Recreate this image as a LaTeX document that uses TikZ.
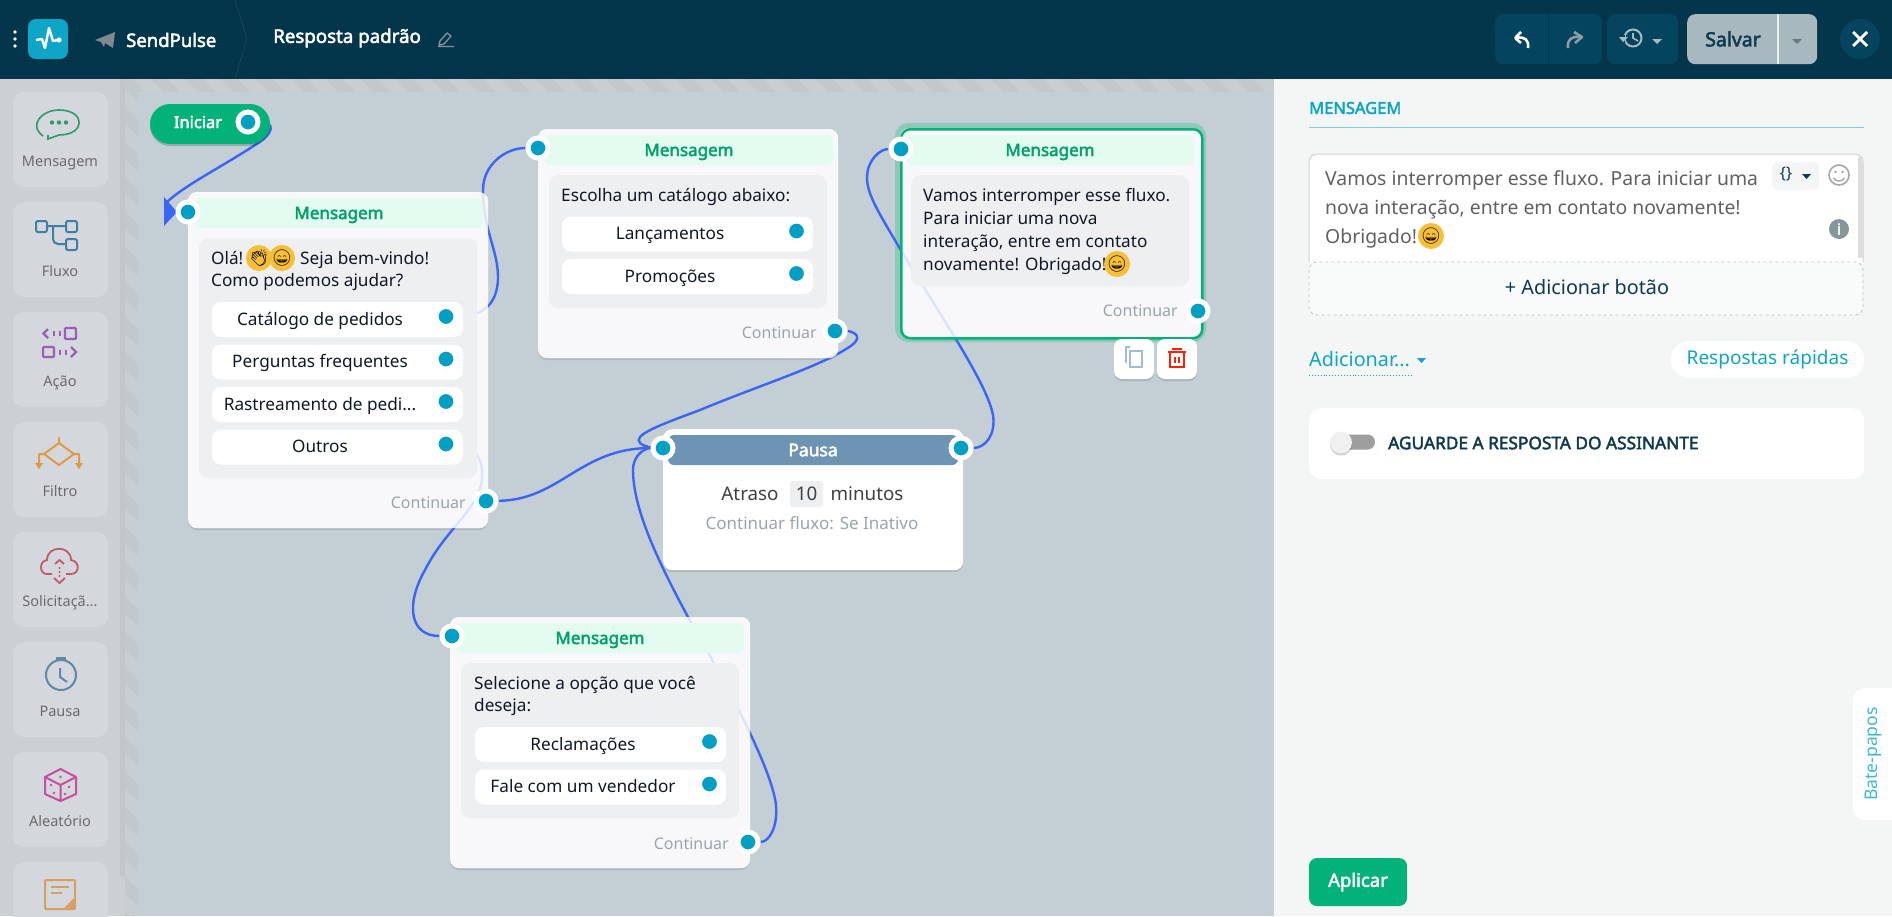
\documentclass[tikz,border=0pt]{standalone}
\usepackage{fontspec}
\setmainfont{Noto Sans}[BoldFont={Noto Sans},BoldFeatures={FakeBold=2.6}]
\newfontfamily\emojifont{Noto Emoji}
\usetikzlibrary{shadows,arrows.meta}
\pgfdeclarelayer{canvas}
\pgfdeclarelayer{wires}
\pgfsetlayers{canvas,wires,main}
\definecolor{topbar}{HTML}{03354B}
\definecolor{topbtn}{HTML}{05445E}
\definecolor{savebtn}{HTML}{A8B8BF}
\definecolor{sidebase}{HTML}{CBD0D4}
\definecolor{sideitem}{HTML}{D4D7DB}
\definecolor{board}{HTML}{C3CED5}
\definecolor{panel}{HTML}{F4F6F6}
\definecolor{cardbg}{HTML}{F7F8FB}
\definecolor{bandbg}{HTML}{E3FCEF}
\definecolor{innerbg}{HTML}{EEEFF1}
\definecolor{flowgreen}{HTML}{02B278}
\definecolor{halo}{HTML}{8FC8B5}
\definecolor{pauseband}{HTML}{6D94B2}
\definecolor{port}{HTML}{019FC4}
\definecolor{wire}{HTML}{3B65F5}
\definecolor{muted}{HTML}{9AA5AB}
\definecolor{inktext}{HTML}{101828}
\definecolor{teal}{HTML}{0EA5C6}
\definecolor{deep}{HTML}{103A50}
\definecolor{iconmsg}{HTML}{2E9B6A}
\definecolor{iconflow}{HTML}{3F7FA3}
\definecolor{iconact}{HTML}{9B5FB8}
\definecolor{iconfilter}{HTML}{E09A45}
\definecolor{iconreq}{HTML}{C25A6C}
\definecolor{iconpause}{HTML}{5C8AA8}
\definecolor{icondice}{HTML}{C84FA0}
\definecolor{iconnote}{HTML}{D8A060}
\definecolor{smileface}{HTML}{F7BE38}
\tikzset{
  cardbox/.style={fill=cardbg,fill opacity=.86,rounded corners=9pt,anchor=north west,inner sep=0pt},
  cardback/.style={fill=white,rounded corners=9pt,general shadow={fill=black,opacity=.1,shadow yshift=-2pt}},
  bandbox/.style={fill=bandbg,text=flowgreen!90!black,font=\fontsize{17}{20}\selectfont\bfseries,rounded corners=6pt,minimum height=30pt,inner sep=0pt,text height=14pt,text depth=2pt},
  innerbox/.style={fill=innerbg,rounded corners=9pt,anchor=north west,inner sep=0pt},
  optbox/.style={fill=white,rounded corners=9pt,minimum width=251pt,minimum height=35pt,inner sep=0pt},
  bodytext/.style={text=inktext,font=\fontsize{17.2}{20}\selectfont,inner sep=0pt,text height=14pt,text depth=3pt},
  linetext/.style={bodytext,anchor=west},
  moretext/.style={text=muted,font=\fontsize{16}{19}\selectfont,inner sep=0pt,anchor=east},
  portdot/.style={circle,fill=port,draw=white,line width=5pt,minimum size=20pt,inner sep=0pt,general shadow={fill=black,opacity=.18,shadow yshift=-1.5pt}},
  optdot/.style={circle,fill=port,draw=white,line width=4pt,minimum size=19pt,inner sep=0pt,general shadow={fill=black,opacity=.18,shadow yshift=-2pt}},
  flowline/.style={draw=wire,line width=2.4pt},
  sideslot/.style={fill=sideitem,rounded corners=11pt},
  sidelabel/.style={text=black!58,font=\fontsize{14.5}{18}\selectfont,inner sep=0pt,text height=12pt,text depth=3pt},
  smilebox/.style={circle,fill=smileface,inner sep=0pt,minimum size=19pt,font=\emojifont\fontsize{16}{16}\selectfont,text=black},
  topblock/.style={fill=topbtn,rounded corners=8pt,anchor=north west,inner sep=0pt},
  paneltext/.style={text=black!62,font=\fontsize{19.4}{24}\selectfont,inner sep=0pt,anchor=west,text height=16pt,text depth=3pt}
}
\begin{document}
\begin{tikzpicture}[x=1pt,y=-1pt]
\useasboundingbox (0,0) rectangle (1892,916);
% background
\begin{pgfonlayer}{canvas}
  \fill[board] (138,92) rectangle (1274,916);
  \fill[sidebase] (0,79) rectangle (120,916);
  \fill[black!5!sidebase] (120,79) rectangle (125,876);
  \fill[sidebase] (120,876) rectangle (125,916);
  \fill[black!1!sidebase] (125,79) rectangle (1274,92) (125,92) rectangle (138,916);
  \begin{scope}
    \clip (125,79) rectangle (1274,92) (125,92) rectangle (138,916);
    \foreach \c in {-900,-865,...,1300}
      \draw[black!4!sidebase,line width=12pt] (\c,0) -- ({\c+1000},1000);
  \end{scope}
  \fill[panel] (1274,79) rectangle (1892,916);
  \fill[topbar] (0,0) rectangle (1892,79);
  \foreach \top in {92,202,312,422,532,642,752,862}
    \fill[sideslot] (13,\top) rectangle (108,{\top+95});
  % shadows under the cards
  \foreach \xa/\ya/\xb/\yb in {188/192/488/528,538/129/838/358,450/617/750/868}
    \fill[cardback] (\xa,\ya) rectangle (\xb,\yb);
  \fill[cardback] (898,126) rectangle (1203,339);
  \draw[halo,line width=5pt,rounded corners=11pt] (897.5,125.5) rectangle (1203.5,339.5);
\end{pgfonlayer}
% top bar
\foreach \yy in {32,39,46}
  \fill[white] (15,\yy) circle (1.8);
\node[fill=teal,rounded corners=8pt,minimum size=40pt,inner sep=0pt] (logo) at (48,39) {};
\draw[white,line width=2.4pt,line join=round] (36,40) -- (42,39) -- (45,48) -- (49,28) -- (53,41) -- (58,40);
\fill[white] (59,40) circle (2.6);
\fill[black!25!savebtn] (95,40) -- (115,32) -- (113,48) -- (105,43) -- (104,47) -- (101,42) -- cycle;
\node[text=white,font=\fontsize{18.5}{20}\selectfont\bfseries,inner sep=0pt,anchor=west] (brand) at (126,40) {SendPulse};
\draw[black!10!topbar!85!white] (235,0) -- (247,39) -- (235,79);
\node[text=white,font=\fontsize{18.7}{20}\selectfont\bfseries,inner sep=0pt,anchor=west] (flowname) at (273,38) {Resposta padrão};
\draw[savebtn!80!black,line width=1.3pt,line join=round] (440,41) -- (447,33) -- (451,36) -- (444,44) -- (439,45) -- cycle (438,46.5) -- (454,46.5);
\node[topblock,minimum width=107pt,minimum height=50pt] (history) at (1495,14) {};
\draw[topbar,line width=.8pt] (1548.5,14) -- (1548.5,64);
\node[topblock,minimum width=71pt,minimum height=50pt] (versions) at (1607,14) {};
\node[topblock,fill=savebtn,minimum width=130pt,minimum height=50pt] (save) at (1687,14) {};
\draw[white!70!savebtn,line width=1.5pt] (1778,14) -- (1778,64);
\node[text=deep,font=\fontsize{19.5}{22}\selectfont\bfseries,inner sep=0pt] (savetext) at (1733,39) {Salvar};
\draw[white,line width=2.6pt,line join=round,rounded corners=1pt] (1521,32) -- (1515,38) -- (1521,43);
\draw[white,line width=2.6pt] (1516,38) .. controls (1525,36) and (1529,40) .. (1528,48);
\draw[savebtn!85!black,line width=2.6pt,line join=round] (1574,32) -- (1582,37) -- (1575,43);
\draw[savebtn!85!black,line width=2.6pt] (1580,37) .. controls (1571,36) and (1567,40) .. (1568,48);
\draw[savebtn,line width=2pt] (1633,38) circle (8.5);
\draw[savebtn,line width=1.6pt] (1633,33) -- (1633,38) -- (1638,41);
\fill[topbtn] (1621,35) rectangle (1625,43);
\fill[savebtn] (1619,37) -- (1628,37) -- (1623,42) -- cycle;
\fill[savebtn] (1652,39) -- (1662,39) -- (1657,44) -- cycle;
\fill[black!35!savebtn] (1792,39) -- (1802,39) -- (1797,44) -- cycle;
\node[circle,fill=topbtn,minimum size=40pt,inner sep=0pt] (closer) at (1860,39) {};
\draw[white,line width=2.8pt] (1853,32) -- (1867,46) (1867,32) -- (1853,46);
% sidebar
\foreach \nm/\yy/\tx in {sa/162/Mensagem,sb/272/Fluxo,sc/382/Ação,sd/492/Filtro,se/602/{Solicitaçã...},sf/712/Pausa,sg/822/Aleatório}
  \node[sidelabel] (\nm) at (60,\yy) {\tx};
\draw[iconmsg,line width=1.6pt] (43,136) .. controls (28,125) and (42,110) .. (59,110) .. controls (86,110) and (86,135) .. (59,135) -- (48,139) -- (48,135);
\foreach \xx in {52,59,66}
  \fill[iconmsg] (\xx,122.5) circle (2.2);
\draw[iconflow,line width=2pt,rounded corners=2pt] (36,221) rectangle (47,232) (66,221) rectangle (77,232) (66,239) rectangle (77,250);
\draw[iconflow,line width=2pt,rounded corners=5pt] (47,226) -- (66,226) (53,226) -- (53,244) -- (66,244);
\draw[iconact,line width=2.2pt,rounded corners=1pt] (65,328) rectangle (76,339) (43,347) rectangle (54,357);
\draw[iconact,line width=2.2pt] (48,329) -- (43.5,333.5) -- (48,338) (71,347) -- (76,352) -- (71,357);
\foreach \xx/\yy in {54/333.5,60/333.5,60/352,66/352}
  \draw[iconact,line width=2.2pt] (\xx,{\yy-2.5}) -- (\xx,{\yy+2.5});
\draw[iconfilter,line width=2pt,line join=round] (59,437) -- (59,443) -- (74,454) -- (59,465) -- (44,454) -- (59,443) (44,454) -- (39,454) -- (39,464) (74,454) -- (79,454) -- (79,464);
\fill[iconfilter] (35,463) -- (43,463) -- (39,469) -- cycle (75,463) -- (83,463) -- (79,469) -- cycle;
\draw[iconreq,line width=1.8pt] (52,574) -- (47,574) .. controls (39,574) and (39,561) .. (47,560) .. controls (47,545) and (71,545) .. (71,560) .. controls (80,561) and (80,574) .. (71,574) -- (66,574);
\draw[iconreq,line width=1.8pt] (55,564) -- (59.5,560) -- (64,564) (54,578) -- (59.5,583) -- (65,578);
\foreach \yy in {568,572,576}
  \fill[iconreq] (59.5,\yy) circle (1.2);
\draw[iconpause,line width=2pt] (61,675) circle (15);
\draw[iconpause,line width=2pt] (60,668) -- (60,677) -- (67,682);
\draw[iconpause,line width=3pt] (56,658) -- (66,658);
\draw[icondice,line width=2pt,line join=round] (60.5,769) -- (76,777) -- (76,794) -- (60.5,801) -- (45,794) -- (45,777) -- cycle (45,777) -- (60.5,785) -- (76,777) (60.5,785) -- (60.5,801);
\foreach \xx/\yy in {60.5/777,51/785,54/793,65/794,69/787}
  \fill[icondice] (\xx,\yy) circle (1.4);
\draw[iconnote,line width=2pt,rounded corners=1pt] (45,880) rectangle (75,909);
\fill[iconnote] (63,909) -- (75,897) -- (75,909) -- cycle;
\draw[iconnote,line width=1.8pt] (51,887) -- (69,887) (51,893) -- (62,893);
% cards
\node[fill=flowgreen,rounded corners=20pt,minimum width=120pt,minimum height=40pt,inner sep=0pt,general shadow={fill=black,opacity=.18,shadow yshift=-2pt}] (startpill) at (210,124) {};
\node[text=white,font=\fontsize{16.5}{20}\selectfont\bfseries,inner sep=0pt] (starttext) at (198,122) {Iniciar};
\node[portdot] (startport) at (248,122) {};
\node[cardbox,minimum width=300pt,minimum height=336pt] (msga) at (188,192) {};
\node[bandbox,minimum width=288pt] (msgahead) at (339,213) {Mensagem};
\node[innerbox,minimum width=278pt,minimum height=240pt] (msgainner) at (199,238) {};
\node[linetext] (msgal) at (211,259) {Olá!};
\node[smilebox,minimum size=18pt] (msgaclap) at (259,258) {👏};
\node[smilebox] (msgasmile) at (282,258) {😄};
\node[linetext] (msgam) at (300,259) {Seja bem-vindo!};
\node[linetext] (msgan) at (211,281) {Como podemos ajudar?};
\foreach \nm/\yy/\tx in {opta/319.5/Catálogo de pedidos,optb/362/Perguntas frequentes,optc/404.5/{Rastreamento de pedi...},optd/447/Outros}{
  \node[optbox] (\nm) at (337.5,\yy) {};
  \node[bodytext] (\nm t) at (320,\yy) {\tx};
  \node[optdot] (\nm p) at (446,{\yy-3}) {};
}
\node[moretext] (msgamore) at (466,503) {Continuar};
\node[portdot] (msgain) at (188,212) {};
\node[portdot] (msgaout) at (486,501) {};
\node[cardbox,minimum width=300pt,minimum height=229pt] (msgb) at (538,129) {};
\node[bandbox,minimum width=288pt] (msgbhead) at (689,150) {Mensagem};
\node[innerbox,minimum width=278pt,minimum height=133pt] (msgbinner) at (549,175) {};
\node[linetext] (msgbl) at (561,196) {Escolha um catálogo abaixo:};
\foreach \nm/\yy/\tx in {opte/234/Lançamentos,optf/276.5/Promoções}{
  \node[optbox] (\nm) at (687.5,\yy) {};
  \node[bodytext] (\nm t) at (670,\yy) {\tx};
  \node[optdot] (\nm p) at (796.5,{\yy-3}) {};
}
\node[moretext] (msgbmore) at (817,333) {Continuar};
\node[portdot] (msgbin) at (538,148) {};
\node[portdot] (msgbout) at (835,331) {};
\node[cardbox,draw=flowgreen,line width=2.5pt,minimum width=301pt,minimum height=209pt] (msgc) at (900,128) {};
\node[bandbox,minimum width=288pt] (msgchead) at (1050,150) {Mensagem};
\node[innerbox,minimum width=278pt,minimum height=111pt] (msgcinner) at (911,175) {};
\foreach \nm/\yy/\tx in {msgcl/196/Vamos interromper esse fluxo.,msgcm/219/Para iniciar uma nova,msgcn/242/{interação, entre em contato},msgco/265/novamente! Obrigado!}
  \node[linetext] (\nm) at (923,\yy) {\tx};
\node[smilebox] (msgcsmile) at (1117,264) {😄};
\node[moretext] (msgcmore) at (1178,311) {Continuar};
\node[portdot] (msgcin) at (901,149) {};
\node[portdot] (msgcout) at (1198,311) {};
\node[fill=white,rounded corners=8pt,minimum size=40pt,inner sep=0pt,general shadow={fill=black,opacity=.12,shadow yshift=-2pt}] (copybtn) at (1134,359) {};
\node[fill=white,rounded corners=8pt,minimum size=40pt,inner sep=0pt,general shadow={fill=black,opacity=.12,shadow yshift=-2pt}] (trashbtn) at (1177,359) {};
\draw[iconflow!50!white,line width=2pt] (1130,347) -- (1126,347) -- (1126,363) (1130,351) rectangle (1142,367);
\draw[red!75!orange,line width=2pt] (1168,352) -- (1186,352) (1172,349) -- (1182,349) (1170,352) -- (1170,367) -- (1184,367) -- (1184,352) (1175,357) -- (1175,363) (1179,357) -- (1179,363);
\node[cardback,anchor=north west,minimum width=300pt,minimum height=141pt,inner sep=0pt,rounded corners=9pt] (pause) at (663,429) {};
\node[fill=pauseband,text=white,font=\fontsize{17.5}{20}\selectfont\bfseries,rounded corners=6pt,minimum width=290pt,minimum height=30pt,inner sep=0pt] (pausehead) at (813,450) {Pausa};
\node[text=black!75,font=\fontsize{18.8}{22}\selectfont,inner sep=0pt] (pausea) at (750,494) {Atraso};
\node[fill=innerbg,rounded corners=3pt,text=black!75,font=\fontsize{18.8}{22}\selectfont,minimum width=33pt,minimum height=26pt,inner sep=0pt] (pauseb) at (806.5,494) {10};
\node[text=black!75,font=\fontsize{18.8}{22}\selectfont,inner sep=0pt] (pausec) at (867,494) {minutos};
\node[text=muted,font=\fontsize{17}{19}\selectfont,inner sep=0pt] (paused) at (812,523) {Continuar fluxo: Se Inativo};
\node[portdot] (pausein) at (663,448) {};
\node[portdot] (pauseout) at (961,448) {};
\node[cardbox,minimum width=300pt,minimum height=251pt] (msgd) at (450,617) {};
\node[bandbox,minimum width=288pt] (msgdhead) at (600,638) {Mensagem};
\node[innerbox,minimum width=278pt,minimum height=155pt] (msgdinner) at (461,663) {};
\node[linetext] (msgdl) at (474,684) {Selecione a opção que você};
\node[linetext] (msgdm) at (474,706) {deseja:};
\foreach \nm/\yy/\tx in {optg/744.5/Reclamações,opth/787/Fale com um vendedor}{
  \node[optbox] (\nm) at (600.5,\yy) {};
  \node[bodytext] (\nm t) at (583,\yy) {\tx};
  \node[optdot] (\nm p) at (709.5,{\yy-3}) {};
}
\node[moretext] (msgdmore) at (729,844) {Continuar};
\node[portdot] (msgdin) at (452,636) {};
\node[portdot] (msgdout) at (748,842) {};
% connectors
\begin{pgfonlayer}{wires}
  \draw[flowline] (startport) .. controls (275,122) and (275,133) .. (255,145) .. controls (225,165) and (185,185) .. (167,202) .. controls (163,206) and (165,212) .. (msgain);
  \fill[wire] (164,197) -- (177,212) -- (164,226) -- cycle;
  \draw[flowline] (optap) .. controls (475,317) and (498,310) .. (498,277) .. controls (498,250) and (483,230) .. (483,190) .. controls (483,165) and (505,148) .. (msgbin);
  \draw[flowline] (msgaout) .. controls (560,500) and (580,448) .. (pausein);
  \draw[flowline] (msgbout) .. controls (850,331) and (865,335) .. (852,345) .. controls (825,365) and (760,385) .. (700,410) .. controls (660,425) and (632,435) .. (640,443) .. controls (644,447) and (655,448) .. (pausein);
  \draw[flowline] (pauseout) .. controls (985,448) and (996,435) .. (993,415) .. controls (987,385) and (950,330) .. (905,257) .. controls (880,215) and (867,195) .. (867,178) .. controls (867,160) and (880,149) .. (msgcin);
  \draw[flowline] (optdp) .. controls (475,445) and (484,460) .. (482,480) .. controls (478,510) and (445,530) .. (425,570) .. controls (405,605) and (410,636) .. (msgdin);
  \draw[flowline] (msgdout) .. controls (770,842) and (778,825) .. (776,805) .. controls (772,770) and (730,690) .. (688,617) .. controls (660,565) and (633,510) .. (633,470) .. controls (633,455) and (645,448) .. (pausein);
\end{pgfonlayer}
% side panel
\node[text=teal,font=\fontsize{16.5}{18}\selectfont\bfseries,inner sep=0pt,anchor=west] (paneltitle) at (1309,108) {MENSAGEM};
\draw[teal!55!white,line width=1.5pt] (1309,127.5) -- (1864,127.5);
\fill[white,rounded corners=8pt] (1309,154) rectangle (1863,270);
\fill[panel!50!white,rounded corners=8pt] (1309,262) rectangle (1863,315);
\fill[panel!50!white] (1309,262) rectangle (1863,275);
\draw[black!18,line width=1pt,rounded corners=8pt] (1309,262) -- (1309,154) -- (1863,154) -- (1863,262);
\draw[black!25,dashed,line width=.8pt,rounded corners=8pt] (1309,262) -- (1309,315) -- (1863,315) -- (1863,262) -- cycle;
\fill[black!13] (1858,157) rectangle (1863,258);
\foreach \nm/\yy/\tx in {panela/179/Vamos interromper esse fluxo. Para iniciar uma,panelb/208/{nova interação, entre em contato novamente!},panelc/237/Obrigado!}
  \node[paneltext] (\nm) at (1325,\yy) {\tx};
\node[smilebox] (panelsmile) at (1431,236) {😄};
\node[fill=panel,rounded corners=6pt,minimum width=47pt,minimum height=28pt,inner sep=0pt] (varbtn) at (1795.5,176) {};
\node[text=deep,font=\fontsize{16}{16}\selectfont,inner sep=0pt] (varbrace) at (1786,174) {\{\}};
\fill[deep] (1802,174) -- (1811,174) -- (1806.5,179) -- cycle;
\draw[black!35,line width=1.6pt] (1839,175) circle (10);
\fill[black!35] (1835.5,172) circle (1.3) (1842.5,172) circle (1.3);
\draw[black!35,line width=1.4pt] (1833.5,178) .. controls (1836,182) and (1842,182) .. (1844.5,178);
\node[circle,fill=black!30!teal!20!gray!80!white,text=white,font=\fontsize{15}{16}\selectfont\bfseries,minimum size=20pt,inner sep=0pt] (infobtn) at (1839,229) {i};
\node[text=deep,font=\fontsize{19.8}{22}\selectfont,inner sep=0pt] (addbtn) at (1587,287) {+ Adicionar botão};
\node[text=teal,font=\fontsize{19.8}{22}\selectfont,inner sep=0pt,anchor=west] (addmenu) at (1309,359) {Adicionar...};
\draw[teal,dotted,line width=.9pt] (1309,375) -- (1411,375);
\fill[teal] (1417,358) -- (1426,358) -- (1421.5,363) -- cycle;
\node[fill=white,rounded corners=18pt,text=teal,font=\fontsize{19}{20}\selectfont,minimum width=193pt,minimum height=37pt,inner sep=0pt] (quickbtn) at (1767.5,359.5) {Respostas rápidas};
\node[fill=white,rounded corners=12pt,anchor=north west,minimum width=555pt,minimum height=71pt,inner sep=0pt] (waitbox) at (1309,408) {};
\fill[black!38,rounded corners=7.5pt] (1342,434.5) rectangle (1375,449.5);
\node[circle,fill=black!6,minimum size=22pt,inner sep=0pt,general shadow={fill=black,opacity=.18,shadow yshift=-2pt}] (waitknob) at (1341,442.5) {};
\node[text=deep,font=\fontsize{17.3}{18}\selectfont\bfseries,inner sep=0pt,anchor=west] (waittext) at (1388,443) {AGUARDE A RESPOSTA DO ASSINANTE};
\fill[white,rounded corners=12pt] (1853,688) rectangle (1910,820);
\node[text=teal!80!white,font=\fontsize{17.5}{18}\selectfont,rotate=90,inner sep=0pt] (chattab) at (1873.5,754) {Bate-papos};
\node[fill=flowgreen,rounded corners=8pt,text=white,font=\fontsize{18.5}{20}\selectfont\bfseries,minimum width=98pt,minimum height=48pt,inner sep=0pt] (applybtn) at (1358,882) {Aplicar};
\end{tikzpicture}
\end{document}
